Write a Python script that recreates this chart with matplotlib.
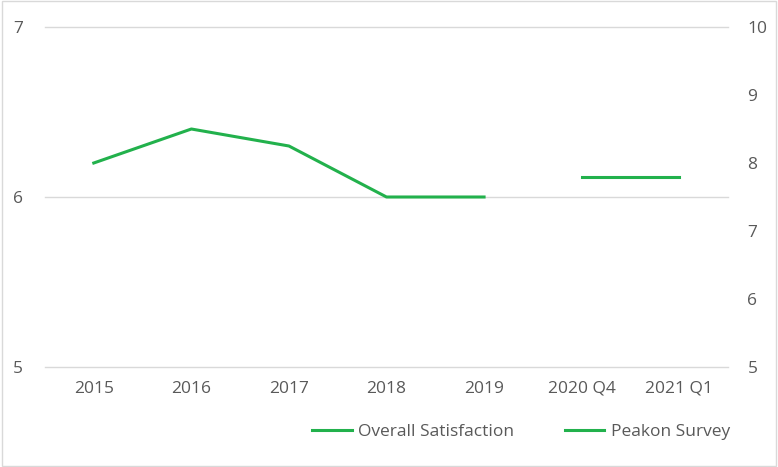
import matplotlib.pyplot as plt
from matplotlib.patches import Rectangle

plt.rcParams['font.family'] = ['Open Sans', 'DejaVu Sans']

categories = ['2015', '2016', '2017', '2018', '2019', '2020 Q4', '2021 Q1']
overall_x = ['2015', '2016', '2017', '2018', '2019']
overall = [6.2, 6.4, 6.3, 6.0, 6.0]
peakon_x = ['2020 Q4', '2021 Q1']
peakon = [7.8, 7.8]

green = '#22B14C'
grey = '#595959'

fig = plt.figure(figsize=(7.78, 4.67), dpi=100)
ax = fig.add_axes([45 / 778, 1 - 367 / 467, 683 / 778, 340 / 467])
ax2 = ax.twinx()

xpos = {c: i for i, c in enumerate(categories)}
l1, = ax.plot([xpos[c] for c in overall_x], overall, color=green, lw=2.2,
              label='Overall Satisfaction')
l2, = ax2.plot([xpos[c] for c in peakon_x], peakon, color=green, lw=2.2,
               label='Peakon Survey')

ax.set_xlim(-0.5, len(categories) - 0.5)
ax.set_xticks(range(len(categories)))
ax.set_xticklabels(categories)
ax.set_ylim(5, 7)
ax.set_yticks([5, 6, 7])
ax2.set_ylim(5, 10)
ax2.set_yticks([5, 6, 7, 8, 9, 10])
ax.yaxis.grid(True, color='#D9D9D9', lw=1)
ax.set_axisbelow(True)
for gl in ax.get_ygridlines():
    gl.set_clip_on(False)

for a in (ax, ax2):
    for s in a.spines.values():
        s.set_visible(False)
    a.tick_params(length=0, labelsize=12.5, colors=grey)
ax.tick_params(axis='y', pad=16)
ax2.tick_params(axis='y', pad=14)
ax.tick_params(axis='x', pad=10)

fig.legend(handles=[l1, l2], loc='center', bbox_to_anchor=(521 / 778, 1 - 432 / 467),
           ncol=2, frameon=False, fontsize=12.5, labelcolor=grey,
           handlelength=2.3, handletextpad=0.35, columnspacing=2.9)

fig.patches.append(Rectangle((0.002, 0.002), 0.996, 0.996, transform=fig.transFigure,
                             fill=False, edgecolor='#D9D9D9', lw=1))

fig.savefig('out.png', dpi=100)
